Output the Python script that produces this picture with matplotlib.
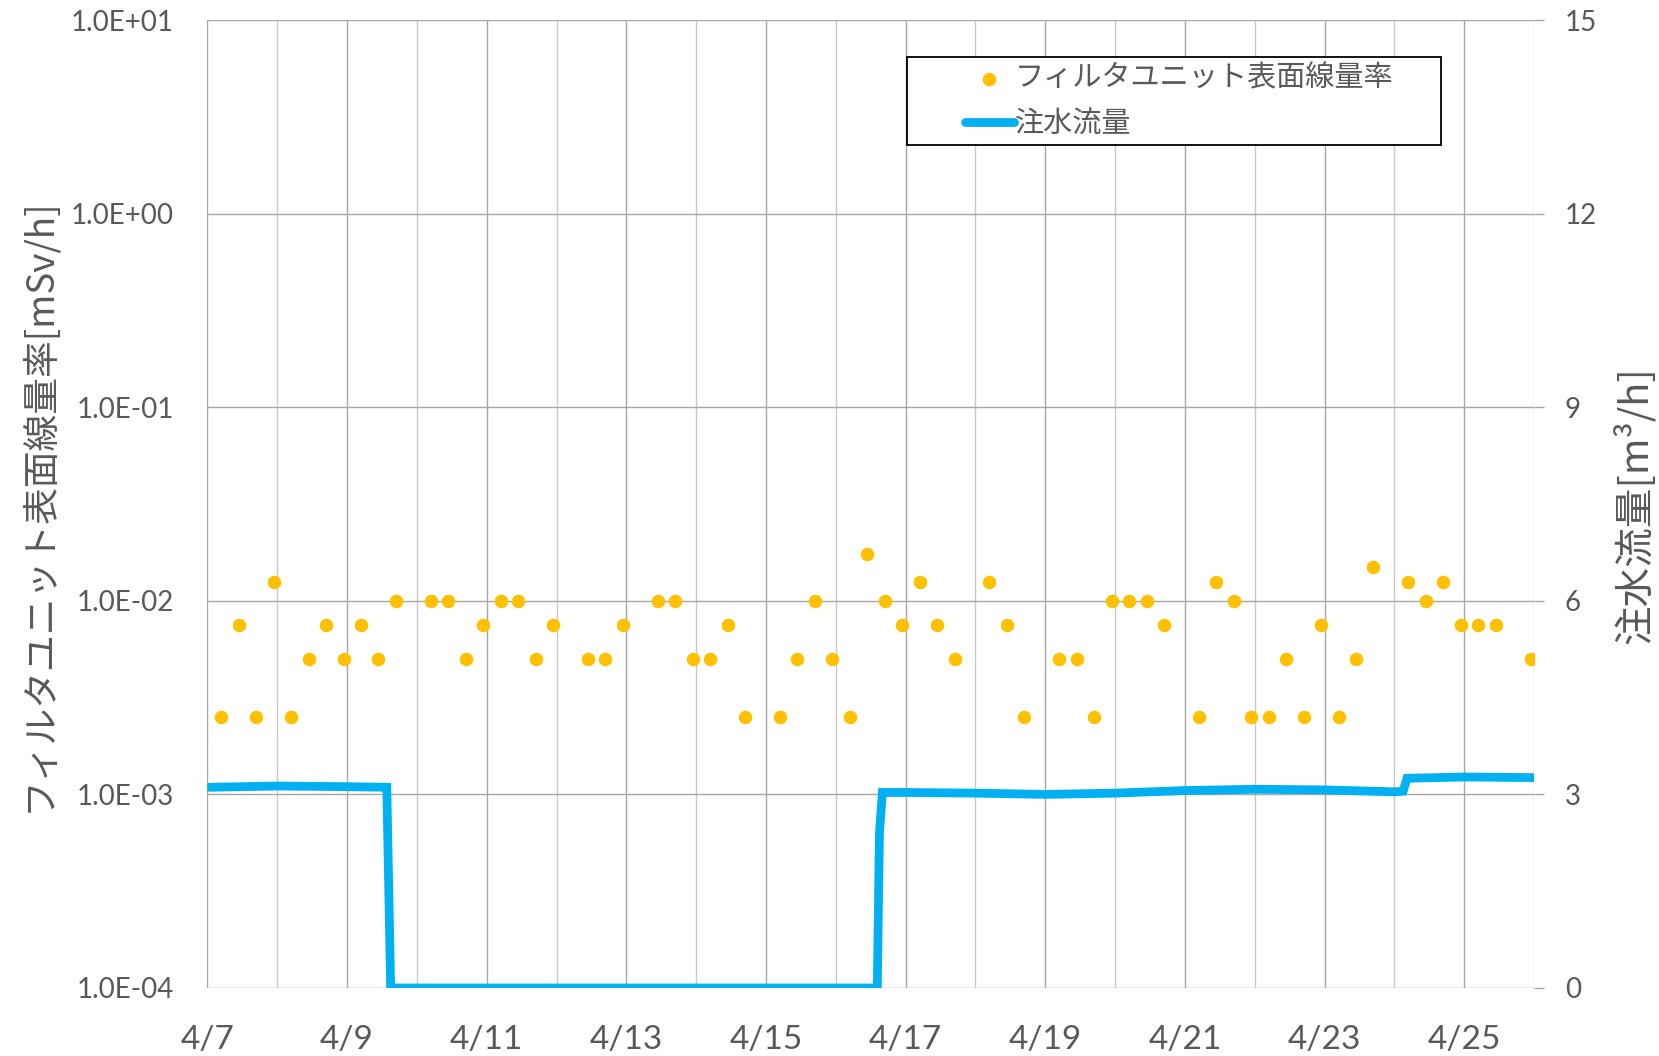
import numpy as np
import pandas as pd
import matplotlib
matplotlib.use('Agg')
import matplotlib.pyplot as plt
import matplotlib.dates as mdates
from matplotlib import font_manager
from matplotlib.patches import Rectangle
from matplotlib.ticker import FixedLocator, FuncFormatter, NullLocator, MultipleLocator

# fonts
JP_FONT = 'Noto Sans CJK JP'
names = {f.name for f in font_manager.fontManager.ttflist}
NUM_FONT = 'Lato'
NARROW_FONT = 'Liberation Sans Narrow' if 'Liberation Sans Narrow' in names else 'Lato'

TEXT_COLOR = '#595959'
DOSE_COLOR = '#FFC000'
FLOW_COLOR = '#00B0F0'

# Filter unit surface dose rate [mSv/h], one reading every 6 hours (None = no data)
dose_start = '2019-04-07 04:48'
dose_values = [
    2.5e-3, 7.5e-3, 2.5e-3, 1.25e-2,   # 4/7
    2.5e-3, 5e-3, 7.5e-3, 5e-3,        # 4/8
    7.5e-3, 5e-3, 1e-2, None,          # 4/9
    1e-2, 1e-2, 5e-3, 7.5e-3,          # 4/10
    1e-2, 1e-2, 5e-3, 7.5e-3,          # 4/11
    None, 5e-3, 5e-3, 7.5e-3,          # 4/12
    None, 1e-2, 1e-2, 5e-3,            # 4/13
    5e-3, 7.5e-3, 2.5e-3, None,        # 4/14
    2.5e-3, 5e-3, 1e-2, 5e-3,          # 4/15
    2.5e-3, 1.75e-2, 1e-2, 7.5e-3,     # 4/16
    1.25e-2, 7.5e-3, 5e-3, None,       # 4/17
    1.25e-2, 7.5e-3, 2.5e-3, None,     # 4/18
    5e-3, 5e-3, 2.5e-3, 1e-2,          # 4/19
    1e-2, 1e-2, 7.5e-3, None,          # 4/20
    2.5e-3, 1.25e-2, 1e-2, 2.5e-3,     # 4/21
    2.5e-3, 5e-3, 2.5e-3, 7.5e-3,      # 4/22
    2.5e-3, 5e-3, 1.5e-2, None,        # 4/23
    1.25e-2, 1e-2, 1.25e-2, 7.5e-3,    # 4/24
    7.5e-3, 7.5e-3, None, 5e-3,        # 4/25
]

# Water injection flow [m3/h]
flow_times = [
    '2019-04-07 00:00', '2019-04-08 00:00', '2019-04-09 00:00', '2019-04-09 13:40',
    '2019-04-09 15:00', '2019-04-16 14:15', '2019-04-16 15:00', '2019-04-16 16:00',
    '2019-04-17 00:00', '2019-04-18 00:00', '2019-04-19 00:00', '2019-04-20 00:00',
    '2019-04-21 00:00', '2019-04-22 00:00', '2019-04-23 00:00', '2019-04-24 00:00',
    '2019-04-24 03:00', '2019-04-24 04:20', '2019-04-25 00:00', '2019-04-26 00:00',
]
flow_values = [
    3.11, 3.13, 3.12, 3.11,
    0.0, 0.0, 2.4, 3.03,
    3.03, 3.02, 3.00, 3.02,
    3.06, 3.08, 3.07, 3.04,
    3.05, 3.25, 3.27, 3.26,
]

dose_t = pd.date_range(dose_start, periods=len(dose_values), freq='6h')
dose_v = np.array([np.nan if v is None else v for v in dose_values])
flow_t = pd.to_datetime(flow_times)

fig = plt.figure(figsize=(16.59, 10.56), dpi=100)
ax = fig.add_axes([0.125, 0.0644, 0.7997, 0.9166])
ax2 = ax.twinx()

sc = ax.scatter(dose_t, dose_v, s=95, color=DOSE_COLOR, linewidths=0, zorder=3)
ln, = ax2.plot(flow_t, flow_values, color=FLOW_COLOR, lw=6.3, solid_capstyle='butt',
               solid_joinstyle='miter')

# left axis (log)
ax.set_yscale('log')
ax.set_ylim(1e-4, 1e1)
ax.yaxis.set_major_locator(FixedLocator([1e-4, 1e-3, 1e-2, 1e-1, 1e0, 1e1]))
ax.yaxis.set_minor_locator(NullLocator())
ax.yaxis.set_major_formatter(FuncFormatter(lambda v, p: f'{v:.1E}'))

# right axis
ax2.set_ylim(0, 15)
ax2.yaxis.set_major_locator(MultipleLocator(3))

# x axis
x0 = pd.Timestamp('2019-04-07')
x1 = pd.Timestamp('2019-04-26')
ax.set_xlim(x0, x1)
ax.xaxis.set_major_locator(FixedLocator(mdates.date2num(pd.date_range(x0, x1, freq='2D'))))
ax.xaxis.set_minor_locator(FixedLocator(mdates.date2num(pd.date_range(x0, x1, freq='D'))))
ax.xaxis.set_major_formatter(FuncFormatter(
    lambda v, p: f'{mdates.num2date(v).month}/{mdates.num2date(v).day}'))

ax.grid(True, which='major', axis='both', color='#a6a6a6', lw=1.0)
ax.grid(True, which='minor', axis='x', color='#c9c9c9', lw=1.0)
ax.set_axisbelow(True)

for a in (ax, ax2):
    for s in a.spines.values():
        s.set_visible(False)

ax.tick_params(axis='y', length=0, pad=24, labelsize=20, labelcolor=TEXT_COLOR)
ax.tick_params(axis='x', which='both', length=0, pad=27, labelsize=24, labelcolor=TEXT_COLOR)
ax2.tick_params(axis='y', length=7, width=1.0, color='#a6a6a6', pad=15,
                labelsize=20, labelcolor=TEXT_COLOR)
for lab in ax.get_yticklabels() + ax2.get_yticklabels():
    lab.set_fontfamily(NUM_FONT)
for lab in ax.get_xticklabels():
    lab.set_fontfamily(NARROW_FONT)

fig.text(0.0235, 0.522, 'フィルタユニット表面線量率[mSv/h]', rotation=90, va='center', ha='center',
         fontsize=26.5, color=TEXT_COLOR, family=[JP_FONT, 'DejaVu Sans'])
fig.text(0.9855, 0.522, '注水流量[m³/h]', rotation=90, va='center', ha='center',
         fontsize=28.5, color=TEXT_COLOR, family=[JP_FONT, 'DejaVu Sans'])

# legend: frame drawn separately, entries placed inside it
ax2.add_patch(Rectangle((0.527, 0.871), 0.403, 0.091, transform=ax2.transAxes,
                        facecolor='white', edgecolor='black', lw=1.3, zorder=4))
leg = ax2.legend([sc, ln], ['フィルタユニット表面線量率', '注水流量'],
                 loc='center left', bbox_to_anchor=(0.571, 0.916),
                 prop={'family': JP_FONT, 'size': 21}, frameon=False,
                 handlelength=1.67, handletextpad=0.05,
                 labelspacing=0.55, borderpad=0, borderaxespad=0, scatterpoints=1)
leg.set_zorder(5)
for t in leg.get_texts():
    t.set_color(TEXT_COLOR)
leg.legend_handles[1].set_solid_capstyle('round')

fig.savefig('out.png', dpi=100)
